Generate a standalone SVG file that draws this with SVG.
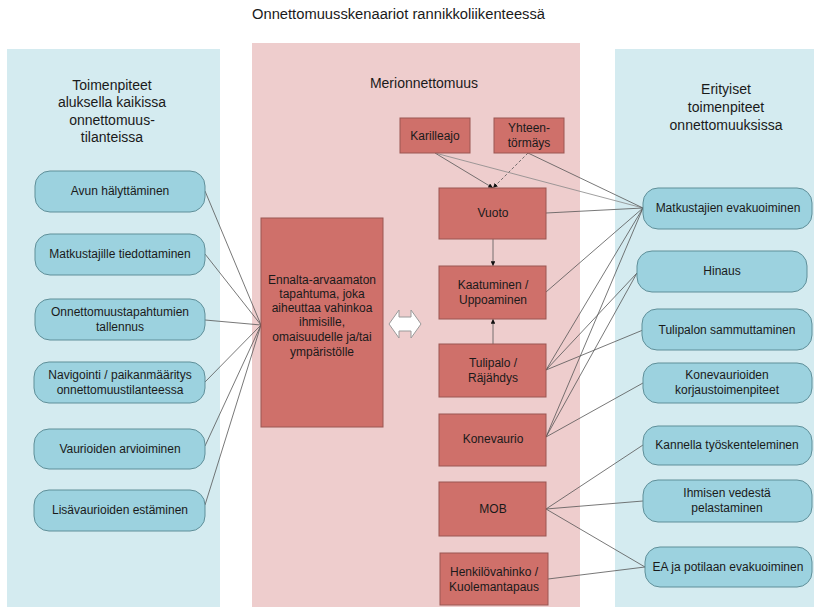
<svg xmlns="http://www.w3.org/2000/svg" width="814" height="607" viewBox="0 0 814 607">
<defs>
<style>
text{font-family:"Liberation Sans",Arial,sans-serif;fill:#1a1a1a;text-anchor:middle}
.hdr{font-size:14px}
.t{font-size:12px}
.bn{fill:#9cd2df;stroke:#5f8f99;stroke-width:1}
.rn{fill:#cf706a;stroke:#9a5652;stroke-width:1}
.cn line{stroke:#555;stroke-width:0.8;fill:none}
</style>
<marker id="ah" viewBox="0 0 10 10" refX="10" refY="5" markerWidth="6" markerHeight="6" orient="auto">
<path d="M0,0 L10,5 L0,10 Z" fill="#111"/>
</marker>
</defs>
<rect width="814" height="607" fill="#ffffff"/>
<text class="hdr" x="398.5" y="19" textLength="293" lengthAdjust="spacingAndGlyphs">Onnettomuusskenaariot rannikkoliikenteessä</text>
<g id="panel-left">
<rect x="7" y="49" width="213" height="558" fill="#d4ebf0"/>
<text class="hdr" x="112" y="90">Toimenpiteet</text>
<text class="hdr" x="112" y="107">aluksella kaikissa</text>
<text class="hdr" x="112" y="125">onnettomuus-</text>
<text class="hdr" x="112" y="142">tilanteissa</text>
</g>
<g id="panel-center">
<rect x="252" y="43" width="328" height="564" fill="#eecdcd"/>
<text class="hdr" x="424" y="88">Merionnettomuus</text>
</g>
<g id="panel-right">
<rect x="615" y="49" width="199" height="558" fill="#d4ebf0"/>
<text class="hdr" x="726" y="94">Erityiset</text>
<text class="hdr" x="726" y="112">toimenpiteet</text>
<text class="hdr" x="726" y="130">onnettomuuksissa</text>
</g>
<g class="cn" id="connectors">
<line x1="205" y1="191" x2="261" y2="325"/>
<line x1="205" y1="254" x2="261" y2="325"/>
<line x1="205" y1="320" x2="261" y2="325"/>
<line x1="205" y1="382" x2="261" y2="325"/>
<line x1="205" y1="446" x2="261" y2="325"/>
<line x1="205" y1="505" x2="261" y2="325"/>
<line x1="435" y1="153" x2="493" y2="188" stroke="#777" marker-end="url(#ah)"/>
<line x1="528" y1="153" x2="493" y2="188" stroke-dasharray="3,2" marker-end="url(#ah)"/>
<line x1="493" y1="239" x2="493" y2="266" marker-end="url(#ah)"/>
<line x1="493" y1="344" x2="493" y2="319" marker-end="url(#ah)"/>
<line x1="435" y1="153" x2="643" y2="208" style="stroke:#888"/>
<line x1="528" y1="153" x2="643" y2="208"/>
<line x1="546" y1="213" x2="643" y2="208"/>
<line x1="546" y1="292" x2="643" y2="208"/>
<line x1="546" y1="370" x2="643" y2="208"/>
<line x1="546" y1="437" x2="643" y2="208"/>
<line x1="546" y1="370" x2="637" y2="273"/>
<line x1="546" y1="437" x2="637" y2="273"/>
<line x1="546" y1="370" x2="643" y2="330"/>
<line x1="546" y1="437" x2="643" y2="383"/>
<line x1="546" y1="509" x2="643" y2="445"/>
<line x1="546" y1="509" x2="643" y2="501"/>
<line x1="546" y1="509" x2="645" y2="567"/>
<line x1="548" y1="579" x2="645" y2="567"/>
</g>
<g id="l1"><rect class="bn" x="35" y="171" width="170" height="41" rx="15"/><text class="t" x="120" y="195">Avun hälyttäminen</text></g>
<g id="l2"><rect class="bn" x="35" y="234" width="170" height="41" rx="15"/><text class="t" x="120" y="258">Matkustajille tiedottaminen</text></g>
<g id="l3"><rect class="bn" x="35" y="299" width="170" height="41" rx="15"/><text class="t" x="120" y="316">Onnettomuustapahtumien</text><text class="t" x="120" y="331">tallennus</text></g>
<g id="l4"><rect class="bn" x="34" y="362" width="171" height="41" rx="15"/><text class="t" x="120" y="379">Navigointi / paikanmääritys</text><text class="t" x="120" y="394">onnettomuustilanteessa</text></g>
<g id="l5"><rect class="bn" x="34" y="429" width="171" height="40" rx="15"/><text class="t" x="120" y="453">Vaurioiden arvioiminen</text></g>
<g id="l6"><rect class="bn" x="34" y="490" width="171" height="41" rx="15"/><text class="t" x="120" y="514">Lisävaurioiden estäminen</text></g>
<g id="main"><rect class="rn" x="261" y="218" width="122" height="209"/>
<text class="t" x="322" y="284">Ennalta-arvaamaton</text>
<text class="t" x="322" y="298">tapahtuma, joka</text>
<text class="t" x="322" y="312">aiheuttaa vahinkoa</text>
<text class="t" x="322" y="326">ihmisille,</text>
<text class="t" x="322" y="341">omaisuudelle ja/tai</text>
<text class="t" x="322" y="356">ympäristölle</text>
</g>
<g id="dblarrow"><path d="M389,324 L399,310 L399,317 L411,317 L411,310 L421,324 L411,338 L411,331 L399,331 L399,338 Z" fill="#ffffff" stroke="#9a9a9a" stroke-width="1"/></g>
<g id="c1"><rect class="rn" x="400" y="118" width="70" height="35"/><text class="t" x="435" y="140">Karilleajo</text></g>
<g id="c2"><rect class="rn" x="494" y="118" width="70" height="35"/><text class="t" x="529" y="132">Yhteen-</text><text class="t" x="529" y="147">törmäys</text></g>
<g id="c3"><rect class="rn" x="439" y="188" width="107" height="51"/><text class="t" x="493" y="217">Vuoto</text></g>
<g id="c4"><rect class="rn" x="439" y="266" width="107" height="53"/><text class="t" x="493" y="289">Kaatuminen /</text><text class="t" x="493" y="304">Uppoaminen</text></g>
<g id="c5"><rect class="rn" x="439" y="344" width="107" height="53"/><text class="t" x="493" y="367">Tulipalo /</text><text class="t" x="493" y="382">Räjähdys</text></g>
<g id="c6"><rect class="rn" x="439" y="414" width="107" height="52"/><text class="t" x="493" y="443">Konevaurio</text></g>
<g id="c7"><rect class="rn" x="439" y="482" width="107" height="54"/><text class="t" x="493" y="513">MOB</text></g>
<g id="c8"><rect class="rn" x="440" y="553" width="108" height="52"/><text class="t" x="494" y="576">Henkilövahinko /</text><text class="t" x="494" y="591">Kuolemantapaus</text></g>
<g id="r1"><rect class="bn" x="643" y="188" width="169" height="41" rx="15"/><text class="t" x="728" y="212">Matkustajien evakuoiminen</text></g>
<g id="r2"><rect class="bn" x="637" y="251" width="170" height="41" rx="15"/><text class="t" x="722" y="275">Hinaus</text></g>
<g id="r3"><rect class="bn" x="642" y="309" width="170" height="41" rx="15"/><text class="t" x="727" y="334">Tulipalon sammuttaminen</text></g>
<g id="r4"><rect class="bn" x="643" y="363" width="169" height="40" rx="15"/><text class="t" x="727" y="379">Konevaurioiden</text><text class="t" x="727" y="394">korjaustoimenpiteet</text></g>
<g id="r5"><rect class="bn" x="643" y="426" width="169" height="39" rx="15"/><text class="t" x="727" y="449">Kannella työskenteleminen</text></g>
<g id="r6"><rect class="bn" x="643" y="480" width="169" height="42" rx="15"/><text class="t" x="727" y="497">Ihmisen vedestä</text><text class="t" x="727" y="512">pelastaminen</text></g>
<g id="r7"><rect class="bn" x="645" y="547" width="167" height="40" rx="15"/><text class="t" x="728" y="571">EA ja potilaan evakuoiminen</text></g>
</svg>
